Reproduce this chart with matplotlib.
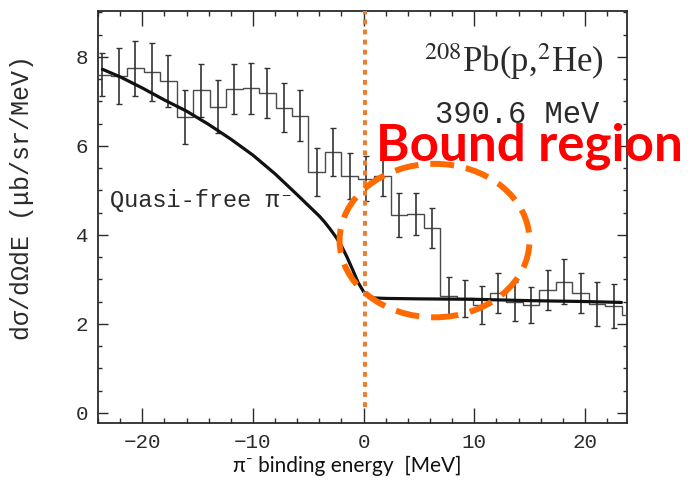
import numpy as np
import matplotlib
matplotlib.use("Agg")
import matplotlib.pyplot as plt
from matplotlib.patches import Ellipse
from matplotlib.ticker import MultipleLocator

plt.rcParams["mathtext.fontset"] = "stix"

# Measured spectrum: 208Pb(p,2He) at 390.6 MeV, fixed-width energy bins
bin_first_edge = -24.35
bin_width = 1.49
counts = [7.60, 7.57, 7.74, 7.66, 7.45, 6.65, 7.25, 6.88, 7.28, 7.29,
          7.19, 6.86, 6.68, 5.41, 5.86, 5.32, 5.26, 5.32, 4.45, 4.47,
          4.15, 2.62, 2.57, 2.42, 2.70, 2.50, 2.42, 2.76, 2.95, 2.70,
          2.45, 2.40]
errors = [0.48, 0.62, 0.62, 0.65, 0.58, 0.60, 0.60, 0.60, 0.57, 0.57,
          0.57, 0.56, 0.57, 0.53, 0.54, 0.51, 0.51, 0.45, 0.49, 0.48,
          0.45, 0.43, 0.42, 0.43, 0.45, 0.43, 0.40, 0.46, 0.50, 0.45,
          0.50, 0.50]
tail_value = 2.20

# Quasi-free pi- production calculation
qf_energy = [-23.6, -22.0, -20.0, -18.0, -16.0, -14.0, -12.0, -10.0, -8.0,
             -6.0, -4.0, -3.5, -3.0, -2.5, -2.0, -1.5, -1.0, -0.5, 0.0, 0.5,
             1.0, 2.0, 5.0, 10.0, 15.0, 20.0, 23.3]
qf_xsec = [7.72, 7.55, 7.30, 7.03, 6.78, 6.48, 6.15, 5.79, 5.37, 4.90,
           4.42, 4.28, 4.12, 3.95, 3.75, 3.50, 3.22, 2.93, 2.72, 2.62,
           2.58, 2.57, 2.56, 2.55, 2.52, 2.50, 2.48]

threshold = 0.15
x_ticks = [-20, -10, 0, 10, 20]
y_ticks = [0, 2, 4, 6, 8]

W, H = 689, 483
fig = plt.figure(figsize=(W / 100, H / 100), dpi=100)
ax = fig.add_axes([98 / W, 1 - 423 / H, 529 / W, 412 / H])

n = len(counts)
edges = bin_first_edge + bin_width * np.arange(n + 2)
centers = edges[:n] + bin_width / 2

ink = "#2b2b2b"
ax.stairs(counts + [tail_value], edges, color="#4a4a4a", lw=1.0, zorder=3)
ax.errorbar(centers, counts, yerr=errors, fmt="none", ecolor="#333333",
            elinewidth=1.2, capsize=2.4, capthick=1.0, zorder=3)
ax.plot(qf_energy, qf_xsec, color="#111111", lw=2.3, zorder=4,
        solid_capstyle="round", solid_joinstyle="round")

ax.set_xlim(-24.0, 23.8)
ax.set_ylim(-0.23, 9.03)
ax.set_xticks(x_ticks)
ax.set_yticks(y_ticks)
ax.xaxis.set_minor_locator(MultipleLocator(2))
ax.yaxis.set_minor_locator(MultipleLocator(0.5))
ax.tick_params(which="both", direction="in", top=True, right=True,
               color=ink, width=1.0)
ax.tick_params(axis="x", which="major", length=11, pad=7)
ax.tick_params(axis="x", which="minor", length=3.5)
ax.tick_params(axis="y", which="major", length=7, pad=7)
ax.tick_params(axis="y", which="minor", length=3)
for lab in ax.get_xticklabels() + ax.get_yticklabels():
    lab.set_fontfamily(["Liberation Mono", "DejaVu Sans Mono"])
    lab.set_fontsize(15)
    lab.set_color(ink)
for sp in ax.spines.values():
    sp.set_color(ink)
    sp.set_linewidth(1.3)

# threshold marker and bound-state highlight
ax.plot([threshold, threshold], [0.13, 9.03], color="#ED7D31", lw=2.9,
        linestyle=(0, (1.2, 1.3)), clip_on=False, zorder=5)
ax.add_patch(Ellipse((6.41, 3.87), 17.16, 3.45, fill=False,
                     edgecolor="#FF6A00", lw=4.3, linestyle=(0, (4, 2)),
                     clip_on=False, zorder=6))


def fx(px):
    return px / W


def fy(py):
    return 1 - py / H


mono = ["Liberation Mono", "DejaVu Sans Mono"]
fig.text(fx(514), fy(62), r"$^{208}$Pb(p,$^{2}$He)", ha="center",
         va="center", fontsize=25, family=["Liberation Serif", "DejaVu Serif"],
         color=ink)
fig.text(fx(517), fy(123), "390.6 MeV", ha="center", va="baseline",
         fontsize=22, family=mono, color=ink)
fig.text(fx(110), fy(200), "Quasi-free π⁻", ha="left", va="center",
         fontsize=17, family=mono, color=ink)
fig.text(fx(376), fy(161), "Bound region", ha="left", va="baseline",
         fontsize=36.8, family=["Lato", "DejaVu Sans"], weight="bold",
         color="#FF0000", zorder=10)
fig.text(fx(347), fy(466), "π⁻ binding energy  [MeV]", ha="center",
         va="center", fontsize=15, family=["Lato", "DejaVu Sans"],
         color="#111111")
fig.text(fx(22), fy(198), "dσ/dΩdE (μb/sr/MeV)", ha="center", va="center",
         rotation=90, fontsize=18, family=mono, color=ink)

fig.savefig("out.png", dpi=100)
